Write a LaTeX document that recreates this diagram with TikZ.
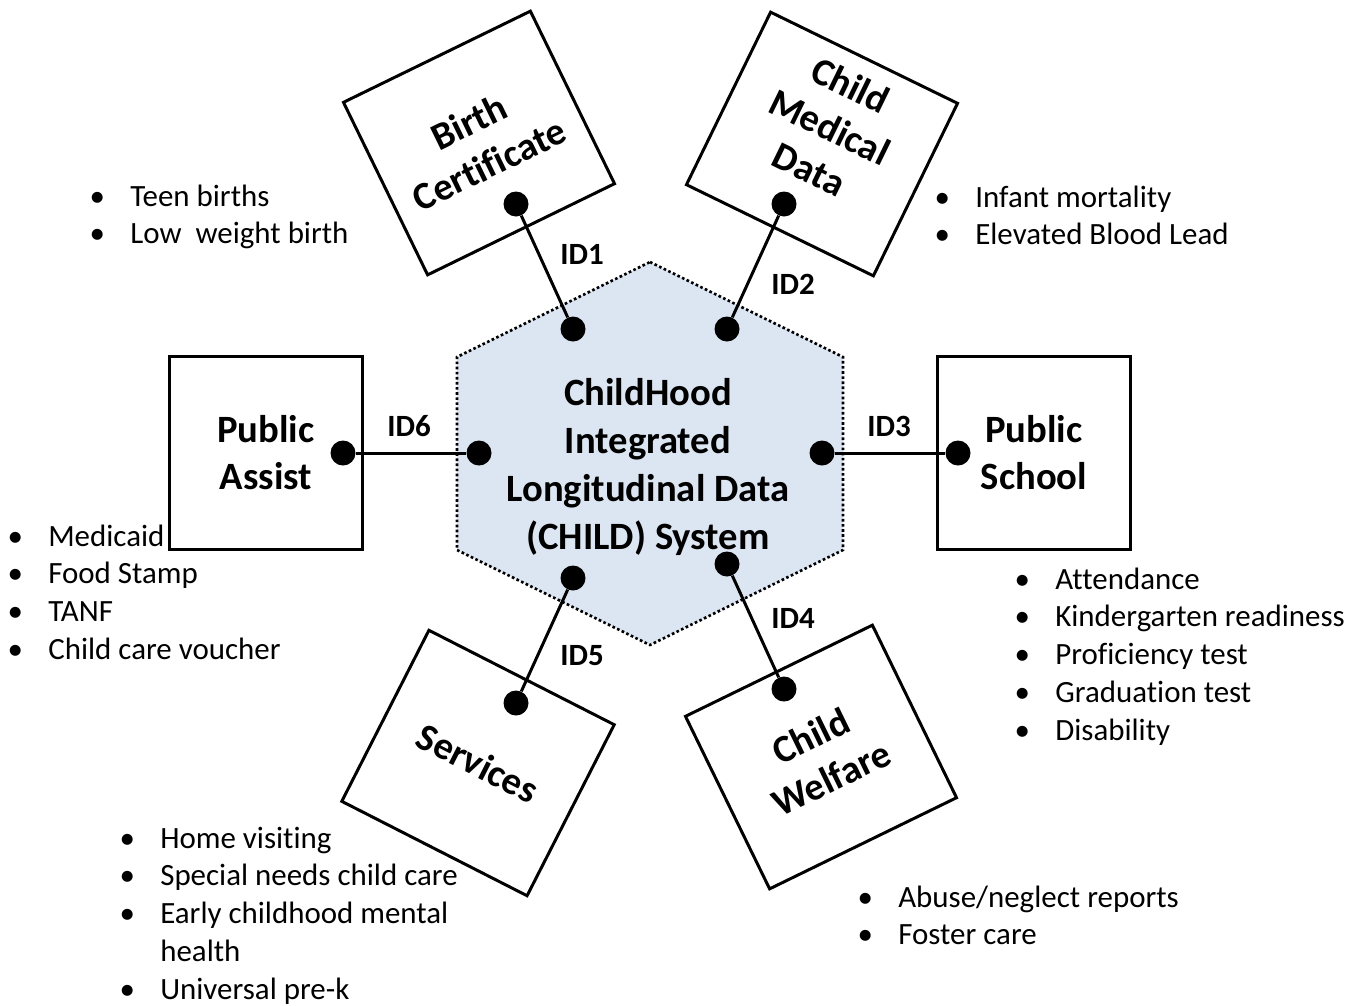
\documentclass[tikz,border=0pt]{standalone}
\usepackage{fontspec}
\setmainfont{Carlito}[Ligatures={NoCommon,NoContextual}, Contextuals=NoAlternate]
\usetikzlibrary{positioning}
\definecolor{hexblue}{RGB}{220,230,242}
\newcommand{\itm}[1]{\makebox[1.32cm][c]{\textbullet}#1}
\newcommand{\cont}[1]{\makebox[1.32cm]{}#1}

\begin{document}
\begin{tikzpicture}[x=0.02cm, y=-0.02cm,
	sysbox/.style={draw, line width=1.7pt, align=center, inner sep=0pt,
		font=\fontsize{22}{26.7}\selectfont\bfseries,
		minimum width=4.16cm, minimum height=3.84cm},
	pubbox/.style={sysbox, minimum width=3.86cm, minimum height=3.86cm},
	boxtext/.style={align=center, inner sep=0pt, font=\fontsize{22}{26.7}\selectfont\bfseries},
	port/.style={circle, fill=black, inner sep=0pt, minimum size=0.5cm},
	link/.style={line width=1.7pt},
	idlabel/.style={font=\fontsize{17.6}{21.6}\selectfont\bfseries},
	bullets/.style={anchor=base west, inner sep=0pt, font=\fontsize{17.6}{21.55}\selectfont}]
	\useasboundingbox (0,0) rectangle (1356,1005);

	% central system
	\draw[fill=hexblue, line width=1.5pt, dash pattern=on 1.5pt off 1.4pt]
		(650,262) -- (843,357) -- (843,550) -- (650,645) -- (457,550) -- (457,357) -- cycle;
	\node[boxtext, font=\fontsize{22}{27.2}\selectfont\bfseries] (core) at (648,467)
		{ChildHood\\Integrated\\Longitudinal Data\\(CHILD) System};

	% source systems
	\node[sysbox, rotate=26] (birth) at (479,143) {Birth\\Certificate};
	\node[sysbox, rotate=-26] (medical) at (822,144) {};
	\node[boxtext, rotate=-26] (medtext) at (830,127) {Child\\Medical\\Data};
	\node[pubbox] (assist) at (266,453) {Public\\Assist};
	\node[pubbox] (school) at (1034,453) {Public\\School};
	\node[sysbox, rotate=-27] (services) at (478,763) {Services};
	\node[sysbox, rotate=26] (welfare) at (821,757) {Child\\Welfare};

	% id links
	\node[port] (in1) at (573,329) {};
	\node[port] (out1) at (516,204) {};
	\node[port] (in2) at (727,329) {};
	\node[port] (out2) at (784,204) {};
	\node[port] (in3) at (822,453) {};
	\node[port] (out3) at (958,453) {};
	\node[port] (in4) at (727,564) {};
	\node[port] (out4) at (784,689) {};
	\node[port] (in5) at (573,578) {};
	\node[port] (out5) at (516,703) {};
	\node[port] (in6) at (479,453) {};
	\node[port] (out6) at (343,453) {};
	\foreach \i in {1,...,6}
		\draw[link] (out\i) -- (in\i);

	\node[idlabel] (id1) at (582,254) {ID1};
	\node[idlabel] (id2) at (793,284) {ID2};
	\node[idlabel] (id3) at (889,426) {ID3};
	\node[idlabel] (id4) at (793,618) {ID4};
	\node[idlabel] (id5) at (582,656) {ID5};
	\node[idlabel] (id6) at (409,426) {ID6};

	% indicators
	\node[bullets] (birthlist) at (64,206) {\begin{tabular}[t]{@{}l@{}}
		\itm{Teen births}\\ \itm{Low\ \ weight birth}\end{tabular}};
	\node[bullets] (medlist) at (909,207) {\begin{tabular}[t]{@{}l@{}}
		\itm{Infant mortality}\\ \itm{Elevated Blood Lead}\end{tabular}};
	\node[bullets] (assistlist) at (-18,546) {\begin{tabular}[t]{@{}l@{}}
		\itm{Medicaid}\\ \itm{Food Stamp}\\ \itm{TANF}\\ \itm{Child care voucher}\end{tabular}};
	\node[bullets] (schoollist) at (989,589) {\begin{tabular}[t]{@{}l@{}}
		\itm{Attendance}\\ \itm{Kindergarten readiness}\\ \itm{Proficiency test}\\
		\itm{Graduation test}\\ \itm{Disability}\end{tabular}};
	\node[bullets] (servicelist) at (94,848) {\begin{tabular}[t]{@{}l@{}}
		\itm{Home visiting}\\ \itm{Special needs child care}\\ \itm{Early childhood mental}\\
		\cont{health}\\ \itm{Universal pre-k}\end{tabular}};
	\node[bullets] (welfarelist) at (832,907) {\begin{tabular}[t]{@{}l@{}}
		\itm{Abuse/neglect reports}\\ \itm{Foster care}\end{tabular}};
\end{tikzpicture}
\end{document}
